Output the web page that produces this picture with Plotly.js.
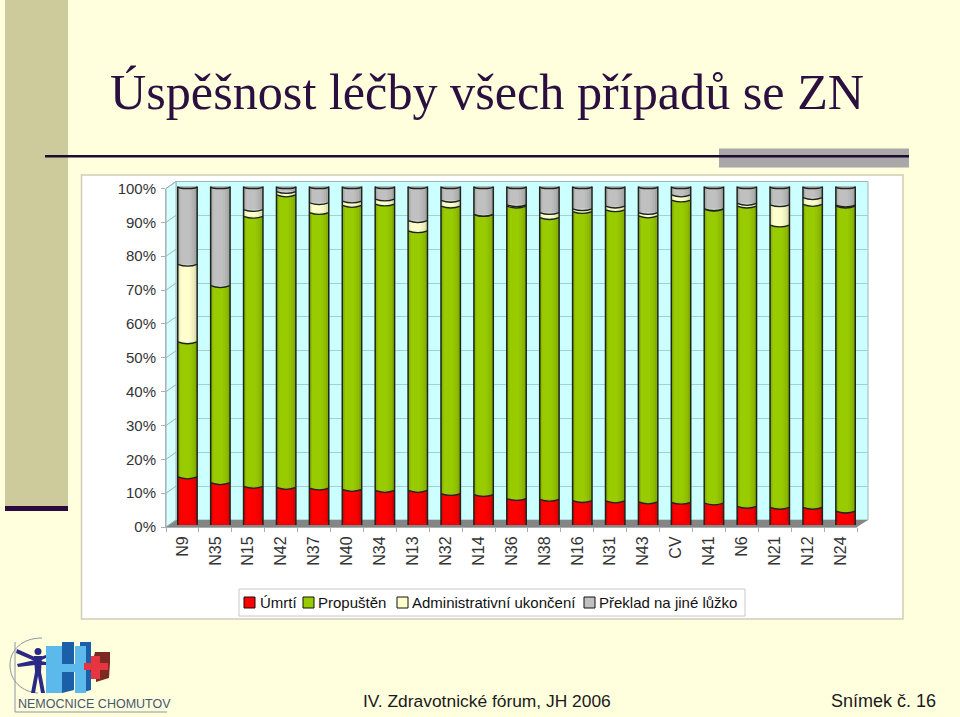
<!DOCTYPE html>
<html><head><meta charset="utf-8">
<script src="https://cdn.plot.ly/plotly-3.0.1.min.js"></script>
<style>html,body{margin:0;padding:0;background:#FFFFDE}#c{width:960px;height:717px}</style>
</head><body><div id="c"></div>
<script>
const categories=["N9","N35","N15","N42","N37","N40","N34","N13","N32","N14","N36","N38","N16","N31","N43","CV","N41","N6","N21","N12","N24"];
const umrti=[14.2,12.5,11.4,11.1,10.9,10.5,10.2,10.2,9.3,9.0,7.8,7.6,7.2,7.1,6.8,6.7,6.5,5.5,5.2,5.2,4.1];
const propusten=[39.9,58.2,79.8,86.4,81.4,83.9,84.6,76.7,84.9,82.7,86.4,83.2,85.4,86.0,84.5,89.3,86.8,88.7,83.4,89.5,90.1];
const administrativni=[22.9,0,2.0,1.0,2.9,1.3,1.5,3.0,1.7,0.1,0.4,1.5,0.8,1.1,1.0,1.5,0.1,0.8,6.0,2.0,0.3];
const preklad=[23.0,29.3,6.8,1.5,4.8,4.3,3.7,10.1,4.1,8.2,5.4,7.7,6.6,5.8,7.7,2.5,6.6,5.0,5.4,3.3,5.5];
const seriesNames=["Úmrtí","Propuštěn","Administrativní ukončení","Překlad na jiné lůžko"];
const yTicks=[0,10,20,30,40,50,60,70,80,90,100];

const seriesValues=[umrti,propusten,administrativni,preklad];
const colors=["#FF0000","#99CC00","#FFFFCC","#C0C0C0"];
const idx=categories.map((_,i)=>i);
const W=960,H=717;
const px=x=>x/W, py=y=>1-y/H;
const BW=0.59, SHIFT=0.152, OFF=-BW/2+SHIFT;
const DARK="#1c241c";

const bases=[];let run=idx.map(()=>0);
seriesValues.forEach(s=>{bases.push(run.slice());run=run.map((v,i)=>v+s[i]);});
const totals=run;

const traces=[
  {type:"scatter",mode:"none",x:[0],y:[0],xaxis:"x",yaxis:"y",showlegend:false,hoverinfo:"skip"},
  {type:"scatter",mode:"none",x:[0],y:[0],xaxis:"x2",yaxis:"y2",showlegend:false,hoverinfo:"skip"}
];
seriesValues.forEach((s,k)=>traces.push({type:"bar",name:seriesNames[k],x:idx,y:s,base:bases[k],width:BW,offset:OFF,
  xaxis:"x2",yaxis:"y3",marker:{color:colors[k],line:{width:0}},showlegend:false,hoverinfo:"name+y"}));
[[0,.07,.16],[.07,.07,.07],[.62,.12,.03],[.74,.12,.07],[.86,.14,.14]].forEach(([st,w,a])=>traces.push({
  type:"bar",x:idx,y:totals,width:BW*w,offset:OFF+BW*st,xaxis:"x2",yaxis:"y3",
  marker:{color:`rgba(0,0,0,${a})`,line:{width:0}},showlegend:false,hoverinfo:"skip"}));

const shapes=[];
const pshape=(o)=>Object.assign({xref:"paper",yref:"paper"},o);
const poly=(pts,fill,line,layer)=>pshape({type:"path",path:"M"+pts.map(p=>px(p[0])+","+py(p[1])).join("L")+"Z",fillcolor:fill,line:line||{width:0},layer:layer||"below"});
const rect=(x0,y0,x1,y1,fill,line,layer)=>pshape({type:"rect",x0:px(x0),x1:px(x1),y0:py(y0),y1:py(y1),fillcolor:fill,line:line||{width:0},layer:layer||"below"});

shapes.push(rect(5,0,68,506,"#CDCB9B"));
shapes.push(rect(5,506,68,511,"#2A0B3C"));
shapes.push(rect(719,148.5,909,167.5,"#AAA7A8"));
shapes.push(rect(45,155,909,157.5,"#1F0A30"));
shapes.push(rect(81.5,175,903,619,"#FFFFFF",{color:"#CFCDB4",width:1.5}));
const wallLine={color:"#9DB4B4",width:1};
shapes.push(poly([[176,181.5],[868,181.5],[868,520],[176,520]],"#CCFFFF",wallLine));
shapes.push(poly([[166,188.5],[176,181.5],[176,520],[166,527]],"#D6FFFF",wallLine));
shapes.push(poly([[166,527],[176,520],[868,520],[857,527]],"#858585"));
yTicks.forEach(v=>{
  const yf=527-v*3.385, yb=520-v*3.385;
  shapes.push(pshape({type:"line",x0:px(166),x1:px(176),y0:py(yf),y1:py(yb),line:{color:"#9DB4B4",width:1},layer:"below"}));
});
const edge={color:DARK,width:1.3};
idx.forEach(i=>{
  const cx=i+SHIFT, l=cx-BW/2, r=cx+BW/2;
  const mk=(path,fill,line)=>({type:"path",xref:"x2",yref:"y3",path,fillcolor:fill||"rgba(0,0,0,0)",line:line||{width:0},layer:"above"});
  shapes.push(mk(`M ${l} 0.8 L ${l} 0 Q ${cx} -1.7 ${r} 0 L ${r} 0.8 Z`,"#F20000"));
  shapes.push(mk(`M ${l} 0 Q ${cx} -1.7 ${r} 0`,null,edge));
  seriesValues.forEach((s,k)=>{
    if(k===0||s[i]<=0) return;
    const v=bases[k][i];
    shapes.push(mk(`M ${l} ${v} Q ${cx} ${v-1.1} ${r} ${v} Z`,colors[k]));
    shapes.push(mk(`M ${l} ${v} Q ${cx} ${v-1.1} ${r} ${v}`,null,edge));
  });
  shapes.push(mk(`M ${l} 0 L ${l} ${totals[i]} M ${r} 0 L ${r} ${totals[i]}`,null,{color:DARK,width:1.5}));
  shapes.push({type:"circle",xref:"x2",yref:"y3",x0:l,x1:r,y0:totals[i]-.65,y1:totals[i]+.65,fillcolor:"#8F8F8F",line:edge,layer:"above"});
});

const lg={color:"#8C95A0",width:1};
shapes.push(pshape({type:"line",x0:px(15),x1:px(15),y0:py(642),y1:py(712),line:lg,layer:"below"}));
shapes.push(pshape({type:"line",x0:px(15),x1:px(167),y0:py(712),y1:py(712),line:lg,layer:"below"}));
shapes.push(pshape({type:"path",path:`M ${px(42)} ${py(638)} C ${px(22)} ${py(638)} ${px(10)} ${py(650)} ${px(10)} ${py(665)} C ${px(10)} ${py(681)} ${px(22)} ${py(692)} ${px(38)} ${py(693)}`,fillcolor:"rgba(0,0,0,0)",line:lg,layer:"below"}));
const fig="#2A2A86";
shapes.push(pshape({type:"circle",x0:px(34.5),x1:px(41.5),y0:py(648),y1:py(655),fillcolor:fig,line:{width:0},layer:"below"}));
shapes.push(poly([[34,656],[42,656],[41,672],[45,693],[41,693],[38,676],[35,693],[31,693],[35,672]],fig));
shapes.push(poly([[17,649],[37,658],[46,655],[46,658],[37,662],[16,653]],fig));
shapes.push(poly([[17,664],[35,660],[46,662],[46,665],[35,665],[18,667]],fig));
shapes.push(poly([[62,642],[74,642],[74,690],[62,693]],"#1A5FA8"));
shapes.push(poly([[80,642],[91,642],[91,690],[80,693]],"#1A5FA8"));
shapes.push(poly([[46,646],[62,646],[62,664],[75,664],[75,646],[86,646],[86,693],[75,693],[75,672],[62,672],[62,693],[46,693]],"#5CB9EC"));
shapes.push(poly([[95,652],[110,652],[110,663],[109,678],[96,682],[96,672],[90,672]],"#7A2A20"));
shapes.push(poly([[91,656],[100,656],[100,663],[108,663],[108,670],[100,670],[100,679],[91,679],[91,670],[84,670],[84,663],[91,663]],"#E63440"));

shapes.push(rect(239,589,745,616,"#FFFFFF",{color:"#C8C8C8",width:1},"below"));
const swatchX=[244,303,397,584], textX=[259,317,411,598];
seriesNames.forEach((n,k)=>shapes.push(rect(swatchX[k],597,swatchX[k]+11,608,colors[k],{color:"#111",width:1},"above")));

const ann=(text,x,y,size,color,family,anchor,extra)=>Object.assign({xref:"paper",yref:"paper",x:px(x),y:py(y),text,showarrow:false,
  xanchor:anchor||"left",yanchor:"middle",font:{size,color,family},borderpad:0},extra||{});
const annotations=[
  ann("Úspěšnost léčby všech případů se ZN",109,92,50.2,"#2A0F3F","Liberation Serif"),
  ann("IV. Zdravotnické fórum, JH 2006",362,701,17.4,"#1A1A1A","Liberation Sans"),
  ann("Snímek č. 16",830,701,18,"#1A1A1A","Liberation Sans"),
  ann("NEMOCNICE CHOMUTOV",17,704,12.5,"#46566E","Liberation Sans"),
];
seriesNames.forEach((n,k)=>annotations.push(ann(n,textX[k],602,15,"#111","Liberation Sans")));

const layout={width:W,height:H,margin:{l:0,r:0,t:0,b:0},paper_bgcolor:"#FFFFDE",plot_bgcolor:"rgba(0,0,0,0)",
  barmode:"overlay",showlegend:false,shapes,annotations,
  font:{family:"Liberation Sans",color:"#333"},
  xaxis:{domain:[px(176),px(868)],range:[-.5,20.5],anchor:"y",showgrid:false,zeroline:false,showline:false,ticks:"",showticklabels:false},
  yaxis:{domain:[py(520),py(181.5)],range:[0,100],anchor:"x",tickmode:"array",tickvals:yTicks,showgrid:true,gridcolor:"#A6CFCF",gridwidth:1,zeroline:false,showline:false,ticks:"",showticklabels:false},
  xaxis2:{domain:[px(166),px(857)],range:[-.5,20.5],anchor:"y2",side:"bottom",tickmode:"array",tickvals:idx,ticktext:categories,
    tickangle:-90,ticks:"",ticklen:0,ticklabelstandoff:2,showgrid:false,zeroline:false,showline:true,linecolor:"#A8B0B0",linewidth:1,
    tickfont:{size:16,color:"#333",family:"Liberation Sans"},
    minor:{tick0:-.5,dtick:1,ticks:"outside",ticklen:4,tickcolor:"#A8B0B0",showgrid:false}},
  yaxis2:{domain:[py(527),py(188.5)],range:[0,100],anchor:"x2",side:"left",tickmode:"array",tickvals:yTicks,ticktext:yTicks.map(v=>v+"%"),
    ticks:"outside",ticklen:4,tickcolor:"#A8B0B0",showgrid:false,zeroline:false,showline:true,linecolor:"#A8B0B0",linewidth:1,ticklabelstandoff:2,
    tickfont:{size:15,color:"#333",family:"Liberation Sans"}},
  yaxis3:{domain:[py(525),py(186.5)],range:[0,100],anchor:"x2",visible:false,showgrid:false,zeroline:false}
};
Plotly.newPlot("c",traces,layout,{displayModeBar:false,staticPlot:true});
</script></body></html>
